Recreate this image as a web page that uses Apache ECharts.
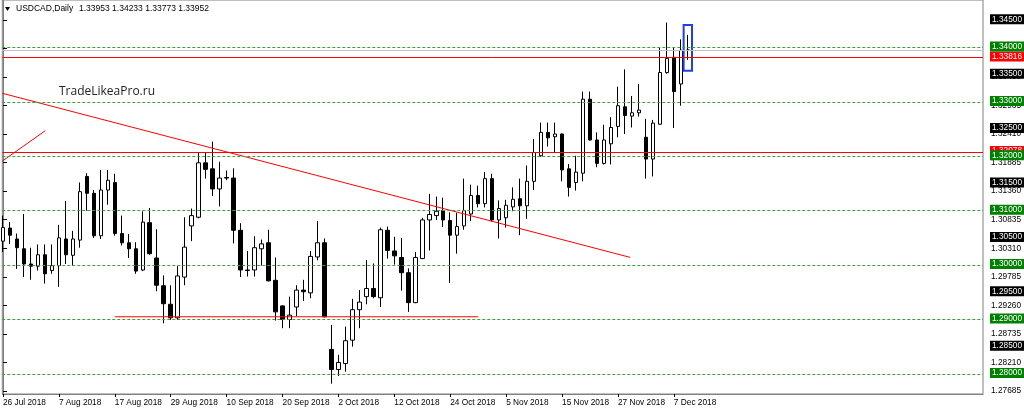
<!DOCTYPE html>
<html>
<head>
<meta charset="utf-8">
<script src="https://cdn.jsdelivr.net/npm/echarts@6/dist/echarts.min.js"></script>
<style>
html,body{margin:0;padding:0;background:#fff;}
#chart{width:1024px;height:413px;}
</style>
</head>
<body>
<div id="chart"></div>
<script>
// Daily USDCAD candles, 26 Jul 2018 .. 11 Dec 2018 (one entry per trading day)
const O = [1.3044,1.3068,1.3048,1.3030,1.3002,1.2998,1.3019,1.2990,1.2999,1.3048,
           1.3018,1.3046,1.3163,1.3132,1.3054,1.3138,1.3152,1.3058,1.3041,1.3030,
           1.2991,1.3078,1.3013,1.2962,1.2928,1.2903,1.2978,1.3072,1.3088,1.3188,
           1.3177,1.3140,1.3160,1.3160,1.3064,1.2991,1.2991,1.3030,1.3041,1.2972,
           1.2925,1.2900,1.2923,1.2954,1.2949,1.3015,1.3041,1.2845,1.2808,1.2819,
           1.2862,1.2918,1.2942,1.2957,1.2940,1.3064,1.3026,1.3014,1.2986,1.2931,
           1.3012,1.3083,1.3091,1.3100,1.3082,1.3055,1.3072,1.3094,1.3128,1.3113,
           1.3159,1.3083,1.3087,1.3107,1.3122,1.3109,1.3154,1.3201,1.3244,1.3236,
           1.3241,1.3177,1.3152,1.3169,1.3305,1.3230,1.3187,1.3223,1.3255,1.3291,
           1.3274,1.3280,1.3235,1.3195,1.3259,1.3354,1.3382,1.3333,1.33953];
const H = [1.3091,1.3079,1.3058,1.3094,1.3032,1.3038,1.3038,1.3038,1.3074,1.3118,
           1.3063,1.3152,1.3169,1.3138,1.3175,1.3175,1.3168,1.3091,1.3057,1.3042,
           1.3099,1.3105,1.3066,1.2981,1.2963,1.2998,1.3088,1.3104,1.3207,1.3207,
           1.3227,1.3190,1.3174,1.3178,1.3077,1.3026,1.3053,1.3047,1.3065,1.3014,
           1.2926,1.2942,1.2963,1.2973,1.3026,1.3081,1.3049,1.2890,1.2835,1.2887,
           1.2938,1.2954,1.3009,1.3003,1.3069,1.3071,1.3052,1.3050,1.2994,1.3024,
           1.3087,1.3131,1.3126,1.3124,1.3097,1.3096,1.3159,1.3148,1.3146,1.3171,
           1.3168,1.3119,1.3120,1.3143,1.3159,1.3183,1.3232,1.3262,1.3262,1.3262,
           1.3242,1.3186,1.3201,1.3319,1.3319,1.3244,1.3258,1.3272,1.3328,1.3360,
           1.3311,1.3333,1.3269,1.3267,1.3401,1.3446,1.3401,1.3415,1.34233];
const L = [1.3024,1.3039,1.2993,1.2978,1.2973,1.2990,1.2966,1.2984,1.2960,1.3002,
           1.2999,1.3032,1.3100,1.3050,1.3048,1.3111,1.3054,1.3036,1.3013,1.2984,
           1.2989,1.3019,1.2952,1.2893,1.2899,1.2899,1.2963,1.3044,1.3086,1.3159,
           1.3127,1.3108,1.3156,1.3040,1.2978,1.2979,1.2979,1.2999,1.2970,1.2898,
           1.2884,1.2884,1.2906,1.2934,1.2939,1.3009,1.2904,1.2782,1.2796,1.2804,
           1.2850,1.2884,1.2928,1.2939,1.2923,1.3012,1.3001,1.2953,1.2914,1.2930,
           1.3011,1.3027,1.3083,1.3070,1.2967,1.3021,1.3065,1.3081,1.3106,1.3106,
           1.3080,1.3049,1.3069,1.3099,1.3055,1.3085,1.3138,1.3199,1.3218,1.3206,
           1.3154,1.3126,1.3137,1.3154,1.3229,1.3180,1.3185,1.3185,1.3235,1.3241,
           1.3253,1.3273,1.3159,1.3163,1.3258,1.3352,1.3252,1.3293,1.33773];
const C = [1.3069,1.3055,1.3032,1.3002,1.2998,1.3019,1.2984,1.2999,1.3050,1.3019,
           1.3048,1.3135,1.3132,1.3054,1.3138,1.3156,1.3058,1.3041,1.3030,1.2989,
           1.3079,1.3021,1.2963,1.2929,1.2903,1.2980,1.3033,1.3091,1.3188,1.3176,
           1.3140,1.3160,1.3161,1.3064,1.2991,1.2990,1.3032,1.3039,1.2971,1.2914,
           1.2900,1.2908,1.2954,1.2951,1.3016,1.3041,1.2905,1.2808,1.2821,1.2861,
           1.2918,1.2932,1.2957,1.2942,1.3065,1.3027,1.3017,1.2986,1.2931,1.3014,
           1.3083,1.3093,1.3099,1.3083,1.3055,1.3071,1.3100,1.3128,1.3113,1.3159,
           1.3083,1.3104,1.3110,1.3121,1.3109,1.3154,1.3207,1.3244,1.3234,1.3241,
           1.3175,1.3143,1.3171,1.3305,1.3230,1.3187,1.3230,1.3253,1.3293,1.3275,
           1.3280,1.3285,1.3195,1.3261,1.3354,1.3380,1.3319,1.3395,1.33952];

// x-axis date labels, one every 8 bars
const tickLabels = ['26 Jul 2018','7 Aug 2018','17 Aug 2018','29 Aug 2018','10 Sep 2018',
  '20 Sep 2018','2 Oct 2018','12 Oct 2018','24 Oct 2018','5 Nov 2018','15 Nov 2018',
  '27 Nov 2018','7 Dec 2018'];
const tickStep = 8;
// default price scale labels
const priceTicks = [1.27685,1.28210,1.28735,1.29260,1.29785,1.30310,1.30835,1.31360,
  1.31885,1.32410,1.32935,1.33460,1.33985,1.34510];
// horizontal level objects
const greenLevels = [1.28,1.29,1.30,1.31,1.32,1.33,1.34];
const blackLevels = [1.285,1.295,1.305,1.315,1.325,1.335,1.345];
const redLevels = [1.32078,1.33816];
const bidLevel = 1.33952;
// drawn lines [barIndex, price]
const trendLine = [[-0.1,1.33159],[89.74,1.30142]];
const shortLine = [[-0.1,1.31912],[6.05,1.32471]];
const supportLine = [[16,1.2905],[68,1.2905]];
// highlight box [barIndex, top price, bottom price]
const boxes = [[98,1.34415,1.33572]];

const FONT = '"Liberation Sans", Arial, sans-serif';
const FS = 8.3;

const candles = O.map((o,i)=>[i,o,C[i],L[i],H[i]]);
const tickIdx = tickLabels.map((_,k)=>k*tickStep);
const last = O.length-1;

function levelSeries(levels, bg, lineStyle, z, showLabel){
  return {
    type: 'line', data: [], clip: false, z: z, symbol: 'none',
    markLine: {
      silent: true, symbol: 'none', animation: false, precision: 5,
      lineStyle: lineStyle,
      label: showLabel ? {
        show: true, position: 'end', distance: 7, offset: [0,-1],
        formatter: p => Number(p.value).toFixed(5),
        backgroundColor: bg, color: '#fff',
        fontSize: FS, fontFamily: FONT, lineHeight: 9,
        padding: [1,2,0,2]
      } : {show: false},
      emphasis: {disabled: true},
      data: levels.map(v => ({yAxis: v}))
    }
  };
}

const chart = echarts.init(document.getElementById('chart'), null, {renderer:'canvas'});
chart.setOption({
  animation: false,
  backgroundColor: '#fff',
  grid: {left: 2, right: 41, top: -1, bottom: 19, show: true, borderColor: '#808080', borderWidth: 1, backgroundColor: 'transparent'},
  xAxis: {
    type: 'value', min: -0.1, max: 140.24,
    splitLine: {show: false},
    axisLine: {show: true, lineStyle: {color: '#808080'}},
    axisTick: {show: true, customValues: tickIdx, length: 3, lineStyle: {color: '#000'}},
    axisLabel: {show: true, customValues: tickIdx, align: 'left', margin: 5,
      fontSize: FS, fontFamily: FONT, color: '#000',
      formatter: v => tickLabels[Math.round(v/tickStep)] || ''}
  },
  yAxis: {
    type: 'value', position: 'right', min: 1.27630, max: 1.34874, scale: true,
    splitLine: {show: false},
    axisLine: {show: true, lineStyle: {color: '#808080'}},
    axisTick: {show: true, customValues: priceTicks, length: 4, lineStyle: {color: '#000'}},
    axisLabel: {show: true, customValues: priceTicks, margin: 8,
      fontSize: FS, fontFamily: FONT, color: '#000',
      formatter: v => v.toFixed(5)}
  },
  graphic: [
    {type: 'polygon', shape: {points: [[5,7],[10,7],[7.5,11]]}, style: {fill: '#000'}},
    {type: 'text', left: 16, top: 4, style: {text: 'USDCAD,Daily', font: '8.5px ' + FONT, fill: '#000'}},
    {type: 'text', left: 79, top: 4, style: {text: [O[last],H[last],L[last],C[last]].map(v=>v.toFixed(5)).join(' '), font: '8.5px ' + FONT, fill: '#000'}},
    {type: 'text', left: 59, top: 86, style: {text: 'TradeLikeaPro.ru', font: '12px "Open Sans", sans-serif', fill: '#222'}}
  ],
  series: [
    {
      type: 'candlestick', data: candles, barWidth: 4, z: 2,
      itemStyle: {color: '#fff', color0: '#000', borderColor: '#000', borderColor0: '#000', borderColorDoji: '#000', borderWidth: 1}
    },
    {type: 'line', data: trendLine, symbol: 'none', z: 3, lineStyle: {color: '#ff0000', width: 1}},
    {type: 'line', data: shortLine, symbol: 'none', z: 3, lineStyle: {color: '#ff0000', width: 1}},
    {type: 'line', data: supportLine, symbol: 'none', z: 3, lineStyle: {color: '#ff0000', width: 1}},
    {
      type: 'custom', data: boxes, z: 4, encode: {x: 0, y: [1,2]},
      renderItem: (params, api) => {
        const i = api.value(0);
        const p0 = api.coord([i-0.6, api.value(1)]);
        const p1 = api.coord([i+0.6, api.value(2)]);
        return {type: 'rect', shape: {x: p0[0], y: p0[1], width: p1[0]-p0[0], height: p1[1]-p0[1]},
          style: {fill: 'none', stroke: '#1f3fe8', lineWidth: 2}};
      }
    },
    levelSeries(blackLevels, '#000', {color: 'rgba(0,0,0,0)', width: 1, type: 'solid'}, 5, true),
    levelSeries(redLevels, '#ff0000', {color: '#ff0000', width: 1, type: 'solid'}, 6, true),
    levelSeries([bidLevel], '#c0c0c0', {color: '#c0c0c0', width: 1, type: 'solid'}, 7, false),
    levelSeries(greenLevels, '#008000', {color: '#3f9f3f', width: 1, type: [3,2]}, 8, true)
  ]
});
</script>
</body>
</html>
